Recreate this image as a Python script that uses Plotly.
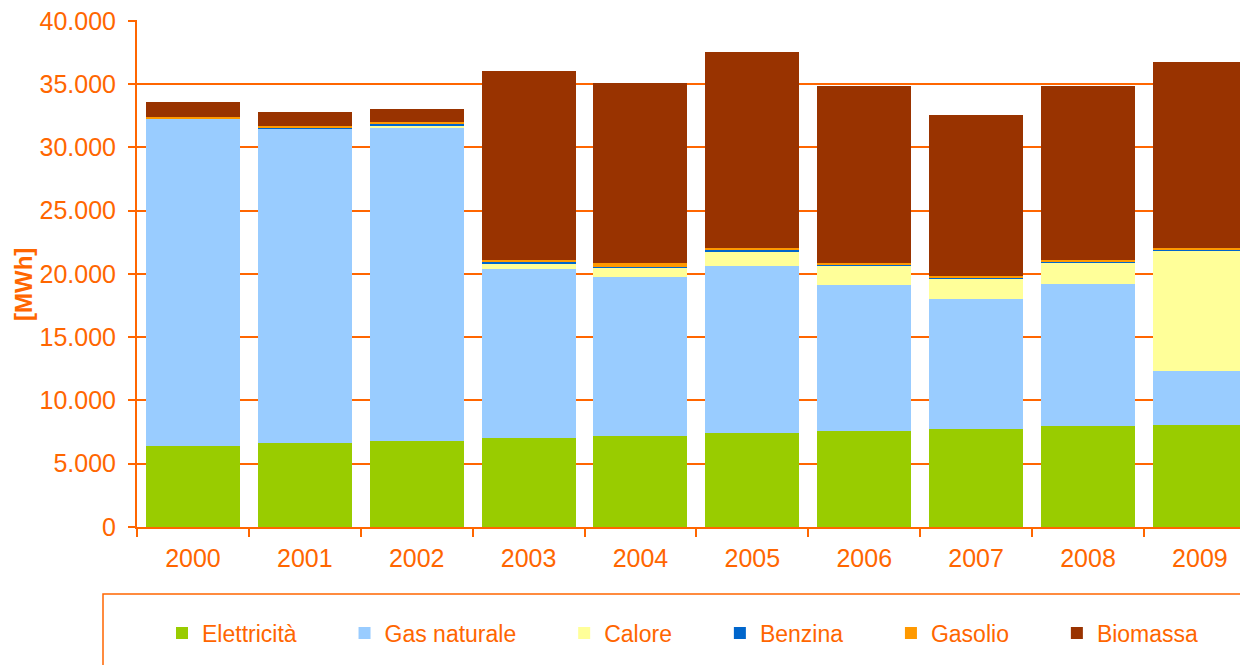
import plotly.graph_objects as go

years = ["2000", "2001", "2002", "2003", "2004", "2005", "2006", "2007", "2008", "2009"]

elettricita = [6390, 6600, 6790, 7020, 7180, 7420, 7570, 7730, 7970, 8050]
gas_naturale = [25820, 24850, 24790, 13380, 12570, 13200, 11550, 10280, 11260, 4260]
calore = [0, 0, 130, 450, 780, 1180, 1570, 1660, 1680, 9520]
benzina = [0, 120, 140, 110, 40, 110, 80, 80, 80, 100]
gasolio = [220, 100, 130, 130, 260, 130, 110, 110, 130, 110]
biomassa = [1120, 1160, 1050, 14970, 14280, 15510, 13990, 12720, 13750, 14730]

series_names = ["Elettricità", "Gas naturale", "Calore", "Benzina", "Gasolio", "Biomassa"]
series_values = [elettricita, gas_naturale, calore, benzina, gasolio, biomassa]
series_colors = ["#99CC00", "#99CCFF", "#FFFF99", "#0066CC", "#FF9900", "#993300"]

y_ticks = [0, 5000, 10000, 15000, 20000, 25000, 30000, 35000, 40000]

ORANGE = "#FF6600"
FONT = "Liberation Sans, Arial, sans-serif"

# page body has an 8px margin: figure drawn 8px in from the window corner
W, H = 1240, 657
ML, MT = 129, 12
PW, PH = W - ML, 507
MB = H - MT - PH

PAD = "\u00a0" * 6 + "\u2009"  # spacing between legend entries

fig = go.Figure()
for i, (name, vals, col) in enumerate(zip(series_names, series_values, series_colors)):
    label = name + (PAD if i < len(series_names) - 1 else "")
    fig.add_trace(go.Bar(
        x=years, y=vals, name=label,
        marker=dict(color=col, line=dict(width=0)),
    ))

fig.update_layout(
    width=W, height=H,
    barmode="stack",
    bargap=0.16,
    separators=",.",
    paper_bgcolor="white",
    plot_bgcolor="white",
    margin=dict(l=ML, r=0, t=MT, b=MB, autoexpand=False),
    font=dict(family=FONT, color=ORANGE, size=25),
    showlegend=True,
    legend=dict(
        orientation="h",
        x=(154 - ML) / PW, xanchor="left",
        y=(MT + PH - 625) / PH, yanchor="middle",
        font=dict(family=FONT, size=23, color=ORANGE),
        bgcolor="rgba(0,0,0,0)",
        traceorder="normal",
        itemwidth=30,
    ),
)

fig.update_yaxes(
    range=[0, 40060],
    tickvals=y_ticks,
    tickformat=",d",
    showgrid=True, gridcolor=ORANGE, gridwidth=1.5,
    showline=True, linecolor=ORANGE, linewidth=2,
    ticks="outside", ticklen=7, tickcolor=ORANGE, tickwidth=1.5,
    ticklabelstandoff=7,
    ticklabeloverflow="allow",
    tickfont=dict(family=FONT, size=25, color=ORANGE),
    zeroline=False,
    automargin=False,
)
fig.update_xaxes(
    type="category",
    range=[-0.5, 9.43],
    showline=True, linecolor=ORANGE, linewidth=2,
    ticks="outside", ticklen=8, tickcolor=ORANGE, tickwidth=1.5,
    tickson="boundaries",
    ticklabelstandoff=8,
    tickfont=dict(family=FONT, size=25, color=ORANGE),
    showgrid=False,
    automargin=False,
)

fig.add_annotation(
    text="<b>[MWh]</b>", textangle=-90,
    xref="paper", yref="paper",
    x=(15 - ML) / PW, y=(MT + PH - 277) / PH,
    xanchor="center", yanchor="middle",
    showarrow=False,
    font=dict(family=FONT, size=24, color=ORANGE),
)

fig.add_shape(
    type="rect", xref="paper", yref="paper",
    x0=(95 - ML) / PW, x1=(1238 - ML) / PW,
    y0=-0.30, y1=(MT + PH - 586) / PH,
    line=dict(color=ORANGE, width=1.5),
    fillcolor="rgba(0,0,0,0)",
    layer="below",
)

fig.write_html("out.html")
